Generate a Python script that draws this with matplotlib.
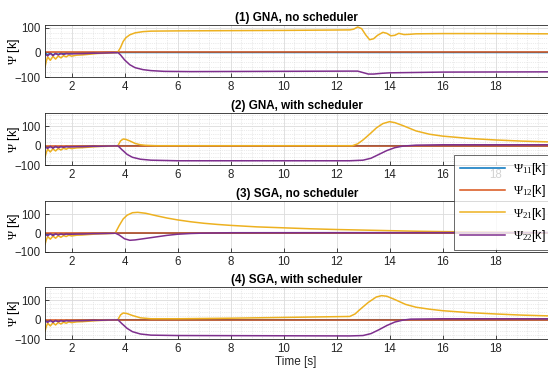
import matplotlib
matplotlib.use("Agg")
import matplotlib.pyplot as plt
from matplotlib.ticker import AutoMinorLocator

plt.rcParams['font.family'] = ['Liberation Sans', 'DejaVu Sans']
plt.rcParams['mathtext.fontset'] = 'custom'
plt.rcParams['mathtext.rm'] = 'Liberation Serif'
plt.rcParams['mathtext.it'] = 'Liberation Serif:italic'

# ---- data -------------------------------------------------------------
titles = ["(1) GNA, no scheduler", "(2) GNA, with scheduler",
          "(3) SGA, no scheduler", "(4) SGA, with scheduler"]
series_labels = [r"$\Psi_{11}$[k]", r"$\Psi_{12}$[k]", r"$\Psi_{21}$[k]", r"$\Psi_{22}$[k]"]
colors = ["#0072BD", "#D95319", "#EDB120", "#7E2F8E"]
x_ticks = [2, 4, 6, 8, 10, 12, 14, 16, 18]
y_ticks = [-100, 0, 100]
y_tops = [112, 170, 170, 170]

# start-up transient (t = 1 .. 3.7 s), common to all runs
t_start = [1.0, 1.05, 1.1, 1.2, 1.3, 1.4, 1.5, 1.6, 1.7, 1.8, 1.9, 2.0,
           2.2, 2.4, 2.6, 2.8, 3.0, 3.3, 3.6]
psi11_start = [0, -6, -9, -3, -10, -4, -8, -3, -6, -3, -4, -3,
               -3, -2, -2, -1, -1, 0, 0]
psi21_start = [-60, -35, -18, -32, -16, -27, -14, -22, -13, -18, -11, -15,
               -11, -10, -8, -6, -4, -3, -1]
psi22_start = [-5, -10, -14, -4, -13, -4, -10, -5, -8, -5, -6, -6,
               -5, -5, -4, -3, -3, -2, -1]

# Psi_11 and Psi_12 stay at zero after start-up
t_flat = [3.7, 20.0]
psi_flat = [0, 0]
psi12_all = [0, 0]

# (1) GNA, no scheduler
t_gna_ns_21 = [3.7, 3.75, 3.85, 3.95, 4.05, 4.2, 4.4, 4.7, 5.0, 6.0, 8.0, 10.0,
               12.5, 12.65, 12.8, 12.95, 13.1, 13.25, 13.4, 13.55, 13.75, 13.9,
               14.05, 14.2, 14.35, 14.55, 14.75, 15.0, 16.0, 18.0, 20.0]
psi_gna_ns_21 = [0, 2, 20, 45, 60, 72, 80, 85, 87, 88, 89, 90,
                 92, 95, 104, 97, 72, 52, 56, 70, 82, 78,
                 68, 70, 78, 73, 74, 76, 77, 77, 76]
t_gna_ns_22 = [3.7, 3.75, 3.85, 4.0, 4.2, 4.4, 4.7, 5.0, 5.5, 6.5, 12.5, 12.8,
               13.0, 13.2, 13.4, 13.7, 14.0, 16.0, 20.0]
psi_gna_ns_22 = [-1, 0, -10, -30, -50, -62, -70, -74, -77, -78, -76, -76,
                 -82, -88, -88, -85, -83, -80, -79]

# (2) GNA, with scheduler
t_gna_ws_21 = [3.7, 3.75, 3.85, 3.95, 4.05, 4.2, 4.4, 4.6, 4.8, 5.2, 12.6, 12.8,
               13.0, 13.25, 13.5, 13.75, 14.0, 14.2, 14.5, 15.0, 15.5, 16.0,
               17.0, 18.0, 19.0, 20.0]
psi_gna_ws_21 = [-1, 0, 25, 35, 33, 25, 12, 5, 2, 0, 0, 10,
                 30, 60, 92, 115, 125, 120, 105, 77, 60, 50,
                 38, 30, 24, 20]
t_gna_ws_22 = [3.7, 3.75, 3.9, 4.1, 4.3, 4.6, 5.0, 6.0, 12.5, 13.0, 13.3, 13.6,
               13.9, 14.2, 14.5, 15.0, 16.0, 20.0]
psi_gna_ws_22 = [-1, 0, -20, -45, -60, -70, -75, -78, -78, -75, -65, -45,
                 -25, -10, -2, 3, 5, 5]

# (3) SGA, no scheduler
t_sga_ns_21 = [3.6, 3.65, 3.8, 3.95, 4.1, 4.3, 4.5, 4.8, 5.2, 5.6, 6.0, 6.5,
               7.0, 7.5, 8.0, 9.0, 10.0, 11.0, 12.0, 13.0, 14.0, 15.0, 16.0,
               18.0, 20.0]
psi_sga_ns_21 = [-1, 0, 40, 75, 95, 108, 110, 105, 92, 80, 70, 60,
                 52, 46, 41, 33, 28, 23, 19, 16, 13, 10, 8,
                 5, 3]
t_sga_ns_22 = [3.6, 3.65, 3.8, 4.0, 4.2, 4.4, 4.8, 5.2, 5.6, 6.0, 6.5, 7.0,
               8.0, 20.0]
psi_sga_ns_22 = [-1, 0, -10, -30, -38, -36, -28, -20, -12, -6, -2, 0,
                 2, 3]

# (4) SGA, with scheduler
t_sga_ws_21 = [3.7, 3.75, 3.85, 3.95, 4.1, 4.3, 4.6, 5.0, 6.0, 8.0, 10.0, 12.5,
               12.7, 12.9, 13.2, 13.5, 13.7, 13.9, 14.2, 14.6, 15.0, 15.5,
               16.0, 17.0, 18.0, 19.0, 20.0]
psi_sga_ws_21 = [-1, 0, 25, 35, 32, 22, 10, 5, 5, 8, 12, 17,
                 30, 55, 90, 118, 125, 122, 105, 80, 65, 55,
                 47, 37, 30, 24, 20]
t_sga_ws_22 = [3.7, 3.75, 3.9, 4.1, 4.3, 4.6, 5.0, 6.0, 12.5, 13.0, 13.3, 13.6,
               13.9, 14.2, 14.5, 14.8, 16.0, 20.0]
psi_sga_ws_22 = [-1, 0, -20, -45, -62, -74, -80, -82, -84, -82, -72, -52,
                 -30, -12, -2, 3, 5, 5]

panels = [
    ((t_gna_ns_21, psi_gna_ns_21), (t_gna_ns_22, psi_gna_ns_22)),
    ((t_gna_ws_21, psi_gna_ws_21), (t_gna_ws_22, psi_gna_ws_22)),
    ((t_sga_ns_21, psi_sga_ns_21), (t_sga_ns_22, psi_sga_ns_22)),
    ((t_sga_ws_21, psi_sga_ws_21), (t_sga_ws_22, psi_sga_ws_22)),
]
minor_grid = [True, True, False, True]

# ---- figure -----------------------------------------------------------
W, H = 548, 370
fig = plt.figure(figsize=(W / 100, H / 100), dpi=100)

# axes boxes in pixels: (top, bottom)
boxes = [(25, 77), (113, 165), (201, 252), (287, 339)]
left_px, right_px = 45, 548.5

handles = None
for i, ((top, bot), (s21, s22)) in enumerate(zip(boxes, panels)):
    ax = fig.add_axes([left_px / W, 1 - bot / H, (right_px - left_px) / W, (bot - top) / H])
    t11 = t_start + t_flat
    p11 = psi11_start + psi_flat
    t12 = [t_start[0], t_flat[-1]]
    l1, = ax.plot(t11, p11, color=colors[0], lw=1.1)
    l2, = ax.plot(t12, psi12_all, color=colors[1], lw=1.1)
    l3, = ax.plot(t_start + s21[0], psi21_start + s21[1], color=colors[2], lw=1.1)
    l4, = ax.plot(t_start + s22[0], psi22_start + s22[1], color=colors[3], lw=1.1)
    handles = [l1, l2, l3, l4]

    ax.set_xlim(1, 20)
    ax.set_ylim(-100, y_tops[i])
    ax.set_xticks(x_ticks)
    ax.set_yticks(y_ticks)
    ax.tick_params(direction='in', length=3, width=0.6, labelsize=8.3,
                   colors='#262626', pad=3)
    ax.tick_params(which='minor', length=0)
    ax.grid(True, which='major', color='#dcdcdc', lw=0.6)
    if minor_grid[i]:
        ax.xaxis.set_minor_locator(AutoMinorLocator(5))
        ax.yaxis.set_minor_locator(AutoMinorLocator(5))
        ax.grid(True, which='minor', color='#d8d8d8', lw=0.5, ls=':')
    ax.set_axisbelow(True)
    for sp in ax.spines.values():
        sp.set_color('#262626')
        sp.set_linewidth(0.6)
    ax.set_title(titles[i], fontsize=8.4, fontweight='bold', pad=3)
    ax.set_ylabel(r"$\Psi$ [k]", fontsize=9)
    ax.yaxis.set_label_coords((22 - left_px) / (right_px - left_px), 0.5)

fig.text(296 / W, 1 - 362 / H, "Time [s]", ha='center', va='center', fontsize=8.5,
         color='#262626')

leg = fig.legend(handles, series_labels, loc='upper left',
                 bbox_to_anchor=(454 / W, 1 - 155 / H), fontsize=9,
                 frameon=True, fancybox=False, edgecolor='#262626',
                 handlelength=3.6, labelspacing=0.5, borderpad=0.5,
                 handletextpad=0.6, borderaxespad=0)
leg.get_frame().set_linewidth(0.6)

fig.savefig("out.png", dpi=100)
